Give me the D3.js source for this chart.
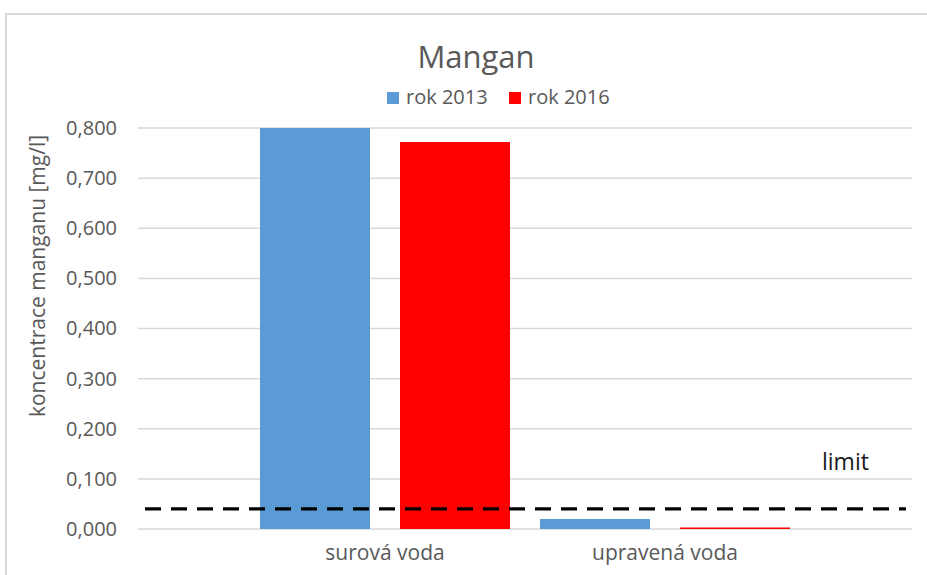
<!DOCTYPE html>
<html>
<head>
<meta charset="utf-8">
<script src="https://cdn.jsdelivr.net/npm/d3@7"></script>
<style>
  body { margin: 0; background: #fff; }
  text { font-family: "Open Sans", "Noto Sans", sans-serif; }
</style>
</head>
<body>
<script>
// base data
const categories = ['surová voda', 'upravená voda'];
const seriesNames = ['rok 2013', 'rok 2016'];
const values2013 = [0.800, 0.020];
const values2016 = [0.772, 0.003];
const limitValue = [0.04];
const yTicks = [0, 0.1, 0.2, 0.3, 0.4, 0.5, 0.6, 0.7, 0.8];
const colors = ['#5b9bd5', '#ff0000'];

// constants
const width = 927;
const height = 575;
const plot = { left: 138, right: 912, top: 128, bottom: 529 };

const svg = d3.select('body').append('svg')
  .attr('width', width).attr('height', height);

// chart frame (runs off the right and bottom edge)
svg.append('rect')
  .attr('x', 6).attr('y', 14).attr('width', 960).attr('height', 600)
  .attr('fill', 'none').attr('stroke', '#d9d9d9').attr('stroke-width', 2);

// scales
const yScale = d3.scaleLinear().domain([0, 0.8]).range([plot.bottom, plot.top]);
const xScale = d3.scaleBand().domain(categories).range([245, 805]);
const xSub = d3.scaleBand().domain(seriesNames).range([0, xScale.bandwidth()])
  .paddingInner(30 / 140).paddingOuter(15 / 140);

// gridlines
svg.append('g').selectAll('line').data(yTicks).enter().append('line')
  .attr('x1', plot.left).attr('x2', plot.right)
  .attr('y1', d => yScale(d)).attr('y2', d => yScale(d))
  .attr('stroke', '#d9d9d9').attr('stroke-width', 1.5);

// y axis labels
const fmt = d => d3.format('.3f')(d).replace('.', ',');
const yAxis = svg.append('g')
  .attr('transform', `translate(${plot.left}, 0)`)
  .call(d3.axisLeft(yScale).tickValues(yTicks).tickFormat(fmt).tickSize(0).tickPadding(21));
yAxis.select('.domain').remove();
yAxis.selectAll('text').attr('font-size', 20).attr('fill', '#595959')
  .attr('font-family', '"Open Sans", sans-serif');

// x axis labels
const xAxis = svg.append('g')
  .attr('transform', `translate(0, ${plot.bottom})`)
  .call(d3.axisBottom(xScale).tickSize(0).tickPadding(16));
xAxis.select('.domain').remove();
xAxis.selectAll('text').attr('font-size', 21).attr('fill', '#595959')
  .attr('font-family', '"Open Sans", sans-serif');

// bars
const rows = categories.map((c, i) => ({ cat: c, vals: [values2013[i], values2016[i]] }));
const groups = svg.append('g').selectAll('g').data(rows).enter().append('g')
  .attr('transform', d => `translate(${xScale(d.cat)}, 0)`);
groups.selectAll('rect')
  .data(d => d.vals.map((v, j) => ({ s: seriesNames[j], v: v, c: colors[j] })))
  .enter().append('rect')
  .attr('x', d => xSub(d.s)).attr('width', xSub.bandwidth())
  .attr('y', d => yScale(d.v)).attr('height', d => yScale(0) - yScale(d.v))
  .attr('fill', d => d.c);

// limit line
svg.append('g').selectAll('line').data(limitValue).enter().append('line')
  .attr('x1', 145).attr('x2', 906)
  .attr('y1', d => yScale(d)).attr('y2', d => yScale(d))
  .attr('stroke', '#000').attr('stroke-width', 3.2)
  .attr('stroke-dasharray', '16,10');
svg.append('text').attr('x', 822).attr('y', 470)
  .attr('font-size', 23).attr('fill', '#1a1a1a').text('limit');

// y title
svg.append('text')
  .attr('transform', 'translate(45, 276) rotate(-90)')
  .attr('text-anchor', 'middle').attr('font-size', 21).attr('fill', '#595959')
  .text('koncentrace manganu [mg/l]');

// title
svg.append('text').attr('x', 476).attr('y', 68).attr('text-anchor', 'middle')
  .attr('font-size', 31).attr('fill', '#595959').text('Mangan');

// legend
const legend = svg.append('g').selectAll('g').data(seriesNames).enter().append('g')
  .attr('transform', (d, i) => `translate(${387 + i * 122}, 92)`);
legend.append('rect').attr('width', 12).attr('height', 12).attr('fill', (d, i) => colors[i]);
legend.append('text').attr('x', 19).attr('y', 12).attr('font-size', 20)
  .attr('fill', '#595959').text(d => d);
</script>
</body>
</html>
